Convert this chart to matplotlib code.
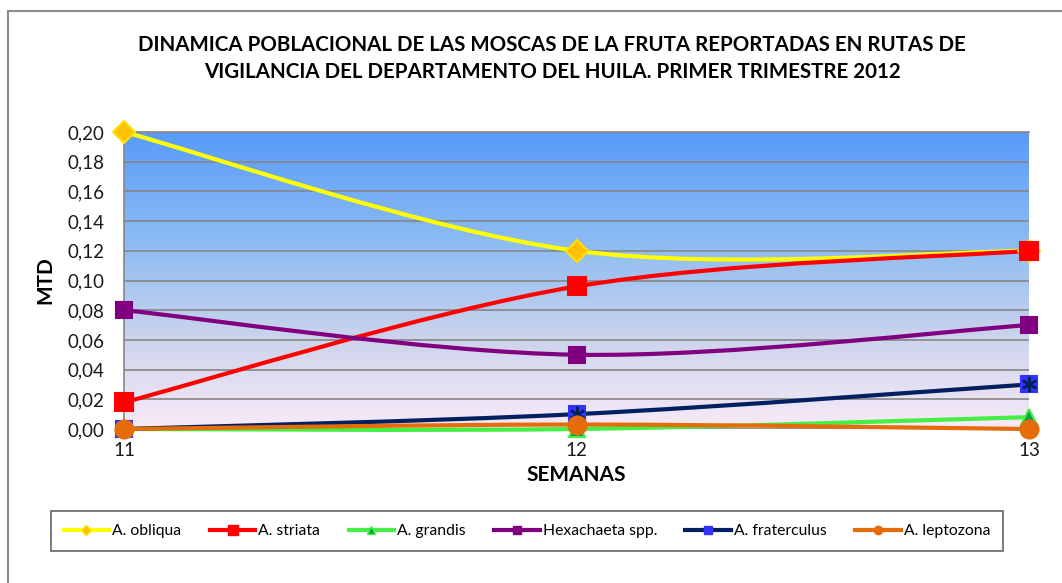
import numpy as np
import matplotlib
matplotlib.use("Agg")
import matplotlib.pyplot as plt
from matplotlib.path import Path
from matplotlib.patches import PathPatch, Rectangle
from matplotlib.lines import Line2D
from matplotlib.colors import LinearSegmentedColormap

plt.rcParams['font.family'] = ['Lato', 'DejaVu Sans']

weeks = [11, 12, 13]
week_labels = ["11", "12", "13"]
series_names = ["A. obliqua", "A. striata", "A. grandis", "Hexachaeta spp.",
                "A. fraterculus", "A. leptozona"]
obliqua = [0.20, 0.12, 0.12]
striata = [0.018, 0.096, 0.12]
grandis = [0.0, 0.0, 0.008]
hexachaeta = [0.08, 0.05, 0.07]
fraterculus = [0.0, 0.01, 0.03]
leptozona = [0.0, 0.003, 0.0]
values = [obliqua, striata, grandis, hexachaeta, fraterculus, leptozona]
yticks = [0.00, 0.02, 0.04, 0.06, 0.08, 0.10, 0.12, 0.14, 0.16, 0.18, 0.20]

styles = [
    dict(color="#FFFF00", marker="D", mfc="#FFC000", mec="#FFE000", ms=11),
    dict(color="#FF0000", marker="s", mfc="#FF0000", mec="#FF0000", ms=13),
    dict(color="#44EE44", marker="^", mfc="#00A050", mec="#44EE44", ms=11),
    dict(color="#800080", marker="s", mfc="#800080", mec="#800080", ms=12),
    dict(color="#002060", marker="s", mfc="#3333FF", mec="#3333FF", ms=12),
    dict(color="#E46C0A", marker="o", mfc="#E46C0A", mec="#E46C0A", ms=13),
]
leg_ms = [5, 7, 6, 6, 6, 6]


def smooth_path(xs, ys):
    pts = np.column_stack([xs, ys]).astype(float)
    n = len(pts)
    verts = [pts[0]]
    codes = [Path.MOVETO]
    for i in range(n - 1):
        p0 = pts[i - 1] if i > 0 else pts[i]
        p1 = pts[i]
        p2 = pts[i + 1]
        p3 = pts[i + 2] if i + 2 < n else pts[i + 1]
        c1 = p1 + (p2 - p0) / 6.0
        c2 = p2 - (p3 - p1) / 6.0
        verts += [c1, c2, p2]
        codes += [Path.CURVE4] * 3
    return Path(verts, codes)


fig = plt.figure(figsize=(10.62, 5.83), dpi=100)
W, H = 1062, 583

# outer chart frame
fig.patches.append(Rectangle((8 / W, -0.05), 1.1, (H - 11) / H + 0.05,
                             transform=fig.transFigure, fill=False,
                             edgecolor="#8C8C8C", lw=1.5))

ax = fig.add_axes([124 / W, 1 - 429 / H, (1029 - 124) / W, (429 - 132) / H])

# gradient background
cmap = LinearSegmentedColormap.from_list("bg", [
    (0.0, (248 / 255, 234 / 255, 248 / 255)),
    (0.30, (205 / 255, 212 / 255, 236 / 255)),
    (0.60, (145 / 255, 190 / 255, 242 / 255)),
    (1.0, (88 / 255, 155 / 255, 250 / 255)),
])
grad = np.linspace(0, 1, 256).reshape(-1, 1)
ax.imshow(grad, extent=[0, 1, 0, 1], transform=ax.transAxes, origin="lower",
          aspect="auto", cmap=cmap, zorder=0)

ax.set_xlim(11, 13)
ax.set_ylim(0, 0.20)
ax.set_yticks(yticks)
ax.set_yticklabels([f"{v:.2f}".replace(".", ",") for v in yticks])
ax.set_xticks(weeks)
ax.set_xticklabels(week_labels)
ax.grid(axis="y", color="#868686", lw=1.2, zorder=1)
ax.tick_params(length=0, labelsize=13.5, colors="#1a1a1a")
ax.tick_params(axis="y", pad=14)
ax.tick_params(axis="x", pad=9)
for s in ["right", "bottom"]:
    ax.spines[s].set_visible(False)
for s in ["left", "top"]:
    ax.spines[s].set_color("#868686")
    ax.spines[s].set_linewidth(1.2)

for i, (vals, st) in enumerate(zip(values, styles)):
    patch = PathPatch(smooth_path(weeks, vals), fill=False, edgecolor=st["color"],
                      lw=3, zorder=3 + i * 0.01, clip_on=False, capstyle="round")
    ax.add_patch(patch)
    ax.plot(weeks, vals, ls="none", marker=st["marker"], ms=st["ms"],
            mfc=st["mfc"], mec=st["mec"], mew=1.5, zorder=4 + i * 0.01,
            clip_on=False)
    if st["mfc"] == "#3333FF":
        ax.plot(weeks, vals, ls="none", marker=(6, 2, 0), ms=st["ms"] - 1,
                mec=st["color"], mew=1.8, zorder=4 + i * 0.01 + 0.005,
                clip_on=False)

ax.set_ylabel("MTD", fontsize=15, fontweight="bold", labelpad=9)
ax.set_xlabel("SEMANAS", fontsize=15, fontweight="bold", labelpad=5)

fig.text(552 / W, 1 - 45 / H,
         "DINAMICA POBLACIONAL DE LAS MOSCAS DE LA FRUTA REPORTADAS EN RUTAS DE",
         ha="center", va="center", fontsize=14.8, fontweight="bold")
fig.text(552 / W, 1 - 72 / H,
         "VIGILANCIA DEL DEPARTAMENTO DEL HUILA. PRIMER TRIMESTRE 2012",
         ha="center", va="center", fontsize=14.8, fontweight="bold")

handles = []
for name, st, lms in zip(series_names, styles, leg_ms):
    handles.append(Line2D([0], [0], color=st["color"], lw=3, marker=st["marker"],
                          ms=lms, mfc=st["mfc"], mec=st["mec"], label=name))
leg = fig.legend(handles=handles, loc="center",
                 bbox_to_anchor=(527 / W, 1 - 531 / H), ncol=6, fontsize=11.3,
                 frameon=True, fancybox=False, edgecolor="#404040",
                 handlelength=2.9, handletextpad=0.2, columnspacing=1.8,
                 borderpad=0.8)
leg.get_frame().set_linewidth(1.2)

fig.savefig("out.png", dpi=100)
